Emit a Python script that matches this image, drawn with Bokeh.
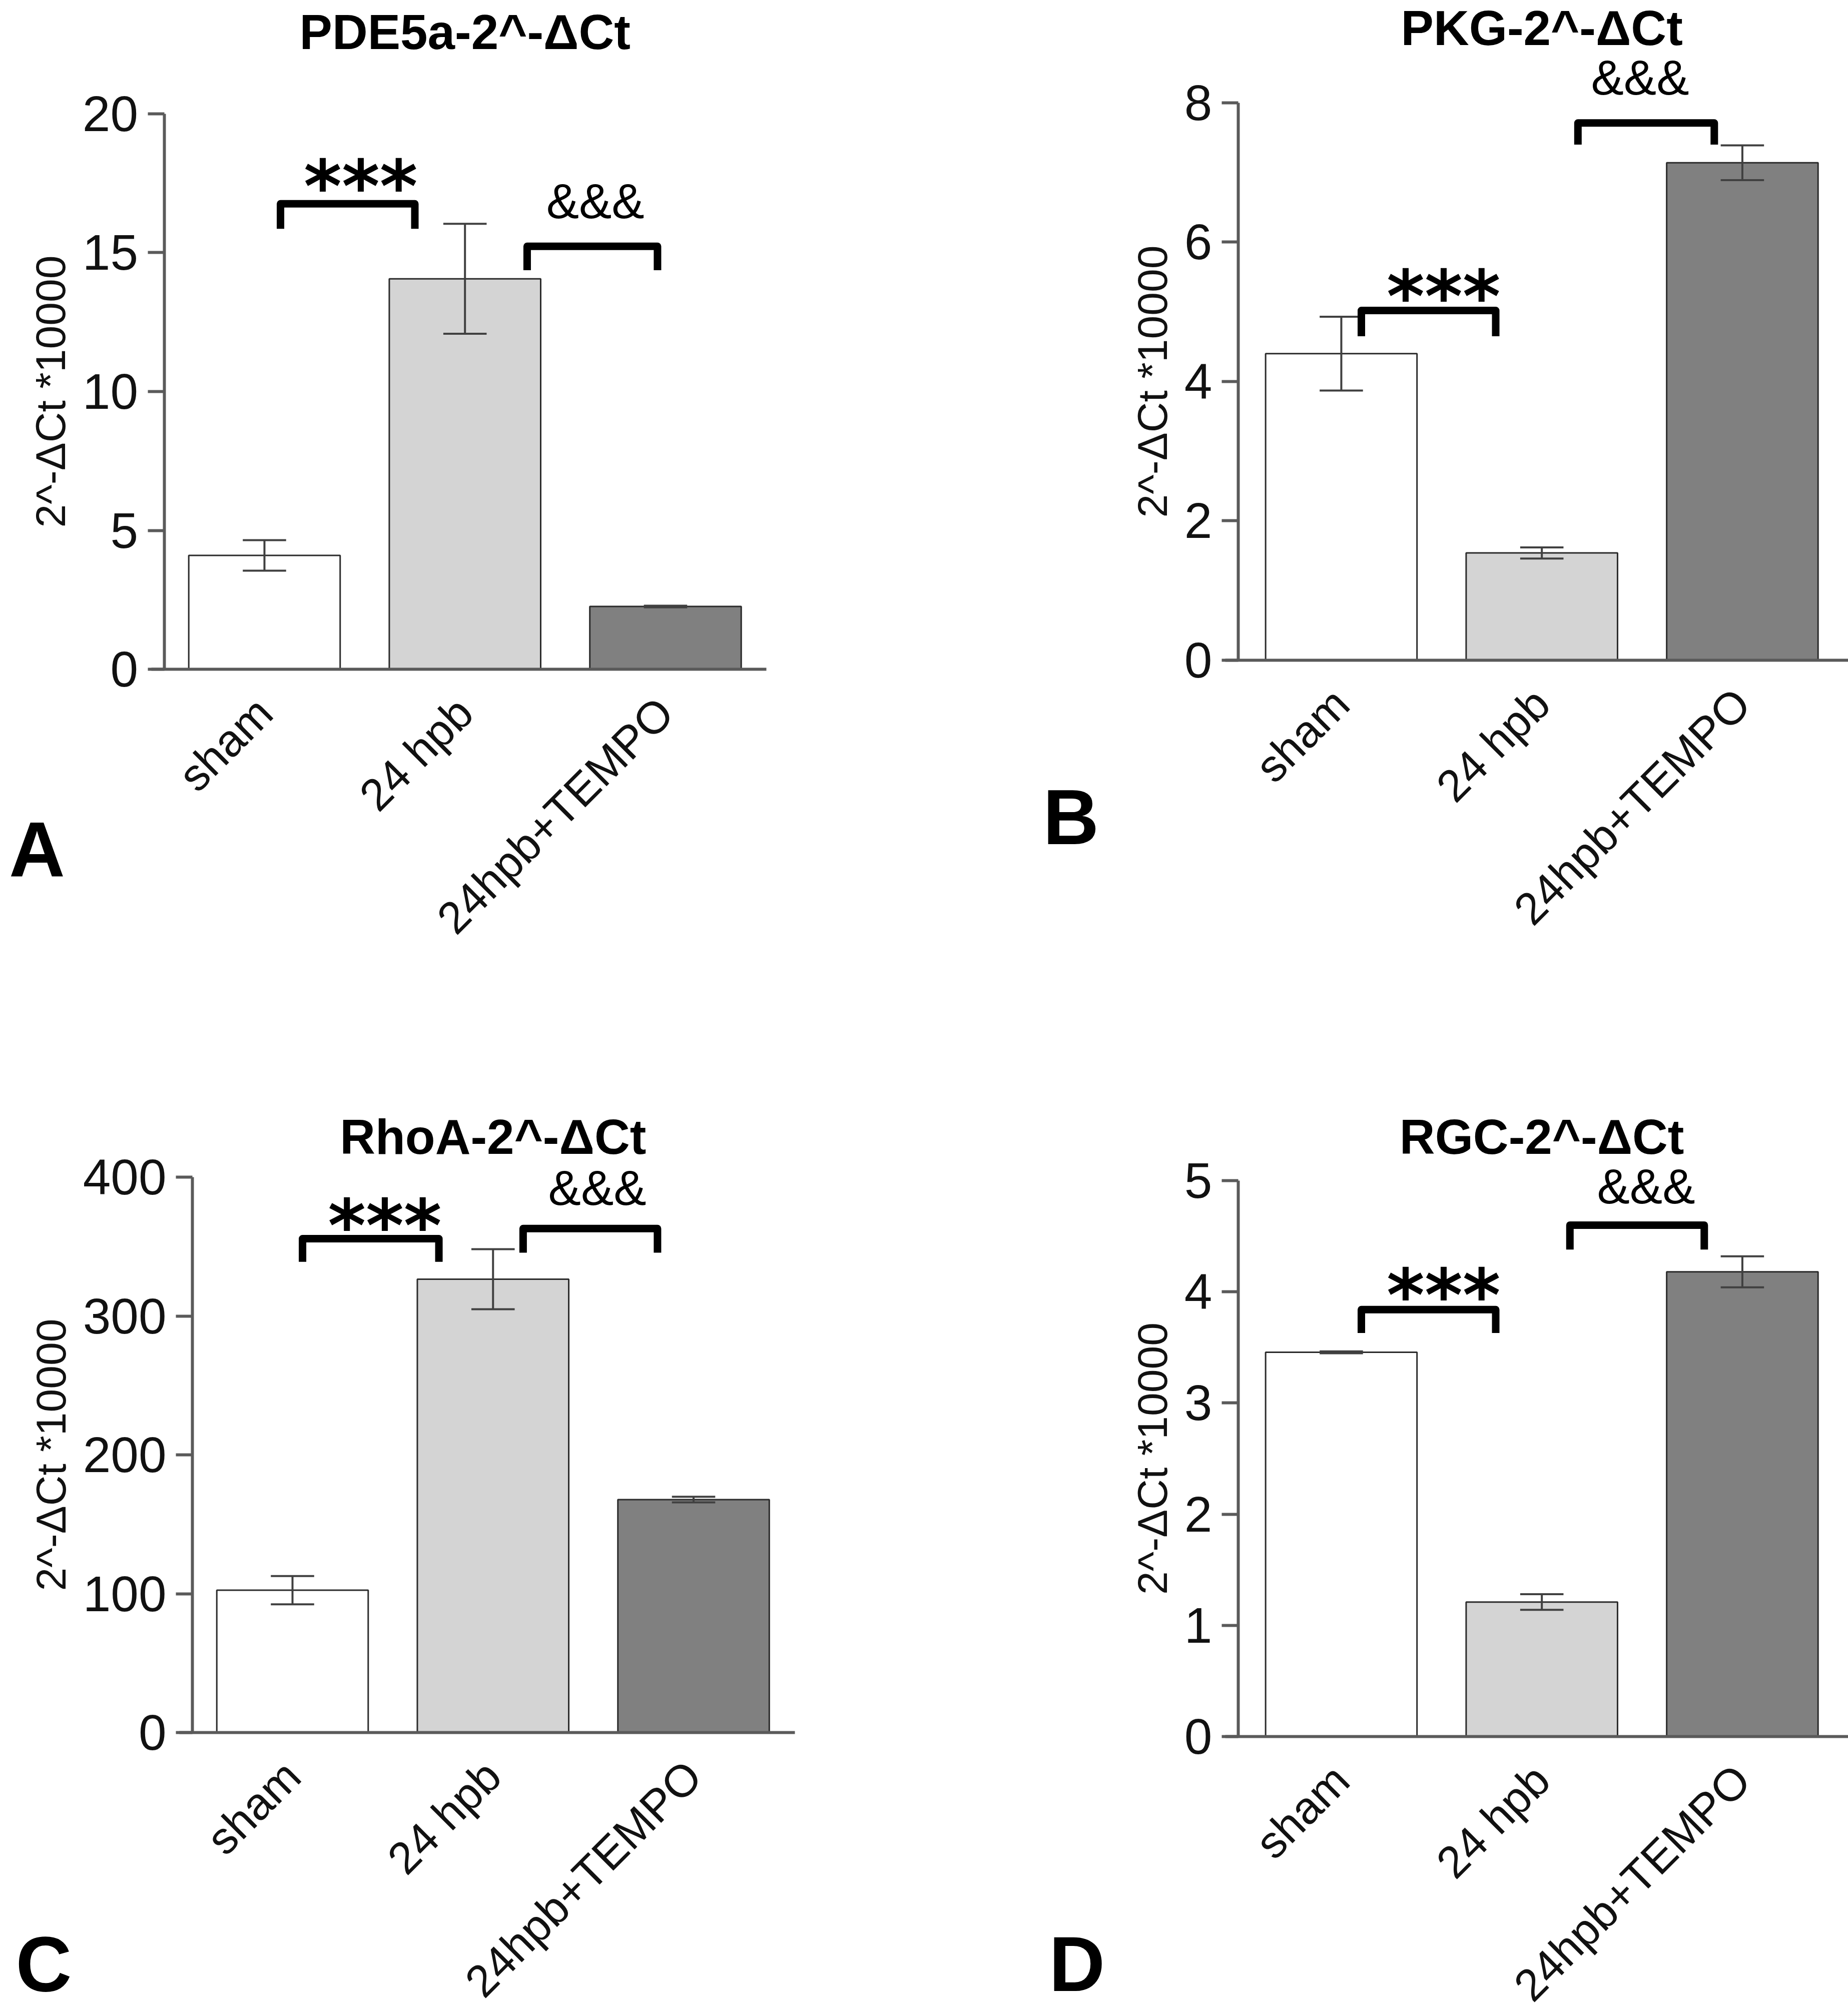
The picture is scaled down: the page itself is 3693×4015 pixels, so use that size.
import math
from bokeh.plotting import figure
from bokeh.layouts import column, row
from bokeh.models import FixedTicker, ColumnDataSource, Range1d
from bokeh.embed import file_html
from bokeh.resources import INLINE
from bokeh.core.properties import value

# ---------------- data ----------------
groups = ["sham", "24 hpb", "24hpb+TEMPO"]
bar_colors = ["#ffffff", "#d4d4d4", "#808080"]

pde5a_mean = [4.10, 14.06, 2.26]
pde5a_sem = [0.55, 1.98, 0.03]
pkg_mean = [4.40, 1.54, 7.14]
pkg_sem = [0.53, 0.08, 0.25]
rhoa_mean = [102.5, 326.5, 167.8]
rhoa_sem = [10.2, 21.6, 2.0]
rgc_mean = [3.456, 1.21, 4.18]
rgc_sem = [0.008, 0.07, 0.14]

titles = ["PDE5a-2^-\u0394Ct", "PKG-2^-\u0394Ct", "RhoA-2^-\u0394Ct", "RGC-2^-\u0394Ct"]
y_label = "2^-\u0394Ct *10000"
pde5a_ticks = [0, 5, 10, 15, 20]
pkg_ticks = [0, 2, 4, 6, 8]
rhoa_ticks = [0, 100, 200, 300, 400]
rgc_ticks = [0, 1, 2, 3, 4, 5]
letters = ["A", "B", "C", "D"]

# significance brackets: (x_start, x_end, y_bar, y_leg, mark, text_x, text_y)
pde5a_sig = [(1.08, 1.75, 16.76, 15.86, "***", 1.48, 17.39),
             (2.31, 2.96, 15.23, 14.37, "&&&", 2.65, 16.85)]
pkg_sig = [(1.10, 1.77, 5.02, 4.65, "***", 1.51, 5.22),
           (2.18, 2.86, 7.71, 7.40, "&&&", 2.49, 8.36)]
rhoa_sig = [(1.05, 1.73, 355.7, 339.0, "***", 1.46, 365.2),
            (2.15, 2.82, 363.0, 345.6, "&&&", 2.52, 392.4)]
rgc_sig = [(1.10, 1.77, 3.84, 3.63, "***", 1.51, 3.97),
           (2.14, 2.81, 4.60, 4.38, "&&&", 2.52, 4.95)]

# placement of each panel (data coordinates of the whole figure area)
# (x_range, y_range, y-axis x location, x-axis extent, title y, letter x, letter y)
pde5a_frame = ((-0.3175, 4.289), (-12.09, 24.09), 0.500, (0.435, 3.503), 22.94, -0.134, -6.486)
pkg_frame = ((-1.081, 3.528), (-4.948, 9.472), 0.486, (0.421, 3.528), 9.07, -0.348, -2.255)
rhoa_frame = ((-0.4573, 4.149), (-199.3, 524.0), 0.501, (0.436, 3.505), 429.2, -0.240, -166.8)
rgc_frame = ((-1.081, 3.528), (-2.453, 6.580), 0.486, (0.421, 3.528), 5.396, -0.318, -2.048)

FONT = "Liberation Sans"
AXIS_GREY = "#5a5a5a"


def make_panel(mean, sem, title, ticks, sig, letter, frame, width, height):
    xr, yr, yaxis_x, xaxis_ext, title_y, letter_x, letter_y = frame
    p = figure(width=width, height=height, title=None,
               x_range=Range1d(*xr), y_range=Range1d(*yr),
               output_backend="svg", toolbar_location=None, min_border=0)
    p.outline_line_color = None
    p.xgrid.visible = False
    p.ygrid.visible = False
    p.background_fill_color = "white"
    p.border_fill_color = "white"

    # y axis
    ya = p.yaxis[0]
    ya.fixed_location = yaxis_x
    ya.bounds = (ticks[0], ticks[-1])
    ya.ticker = FixedTicker(ticks=ticks)
    ya.minor_tick_line_color = None
    ya.major_tick_out = 33
    ya.major_tick_in = 0
    ya.major_tick_line_width = 6
    ya.major_tick_line_color = AXIS_GREY
    ya.axis_line_width = 6
    ya.axis_line_color = AXIS_GREY
    ya.major_label_text_font = FONT
    ya.major_label_text_font_size = "100px"
    ya.major_label_text_color = "#111111"
    ya.major_label_standoff = 19
    ya.axis_label = y_label
    ya.axis_label_text_font = FONT
    ya.axis_label_text_font_size = "84px"
    ya.axis_label_text_font_style = "normal"
    ya.axis_label_text_color = "#111111"
    ya.axis_label_standoff = 14

    # x axis
    xa = p.xaxis[0]
    xa.fixed_location = 0
    xa.bounds = xaxis_ext
    xa.ticker = FixedTicker(ticks=[1, 2, 3])
    xa.major_label_overrides = {1: groups[0], 2: groups[1], 3: groups[2]}
    xa.major_label_orientation = math.pi / 4
    xa.major_tick_line_color = None
    xa.minor_tick_line_color = None
    xa.axis_line_width = 6
    xa.axis_line_color = AXIS_GREY
    xa.major_label_text_font = FONT
    xa.major_label_text_font_size = "90px"
    xa.major_label_text_color = "#111111"
    xa.major_label_standoff = 66

    xs = [1, 2, 3]
    src = ColumnDataSource(dict(
        x=xs, top=mean, color=bar_colors,
        lo=[m - s for m, s in zip(mean, sem)],
        hi=[m + s for m, s in zip(mean, sem)],
        cl=[x - 0.108 for x in xs], cr=[x + 0.108 for x in xs]))
    p.vbar(x="x", top="top", bottom=0, width=0.755, fill_color="color",
           line_color="#2b2b2b", line_width=3, source=src)
    p.segment(x0="x", y0="lo", x1="x", y1="hi", line_color="#404040",
              line_width=4, source=src)
    p.segment(x0="cl", y0="lo", x1="cr", y1="lo", line_color="#404040",
              line_width=4, source=src)
    p.segment(x0="cl", y0="hi", x1="cr", y1="hi", line_color="#404040",
              line_width=4, source=src)

    for (x0, x1, yb, yl, mark, tx, ty) in sig:
        p.multi_line(xs=[[x0, x0, x1, x1]], ys=[[yl, yb, yb, yl]],
                     line_color="black", line_width=15, line_join="round")
        if mark == "***":
            p.text(x=[tx], y=[ty], text=[mark], text_font=value("DejaVu Sans"),
                   text_font_style="bold", text_font_size="145px",
                   text_align="center", text_baseline="alphabetic",
                   text_color="black")
        else:
            p.text(x=[tx], y=[ty], text=[mark], text_font=value(FONT),
                   text_font_size="98px", text_align="center",
                   text_baseline="alphabetic", text_color="black")

    # panel title and panel letter
    p.text(x=[2], y=[title_y], text=[title], text_font=value(FONT),
           text_font_style="bold", text_font_size="98px", text_align="center",
           text_baseline="middle", text_color="black")
    p.text(x=[letter_x], y=[letter_y], text=[letter], text_font=value(FONT),
           text_font_style="bold", text_font_size="155px", text_align="center",
           text_baseline="middle", text_color="black", level="overlay")
    return p


pA = make_panel(pde5a_mean, pde5a_sem, titles[0], pde5a_ticks, pde5a_sig, letters[0],
                pde5a_frame, 1846, 2008)
pB = make_panel(pkg_mean, pkg_sem, titles[1], pkg_ticks, pkg_sig, letters[1],
                pkg_frame, 1847, 2008)
pC = make_panel(rhoa_mean, rhoa_sem, titles[2], rhoa_ticks, rhoa_sig, letters[2],
                rhoa_frame, 1846, 2007)
pD = make_panel(rgc_mean, rgc_sem, titles[3], rgc_ticks, rgc_sig, letters[3],
                rgc_frame, 1847, 2007)

layout = column(row(pA, pB), row(pC, pD))
open("out.html", "w").write(file_html(layout, INLINE))
